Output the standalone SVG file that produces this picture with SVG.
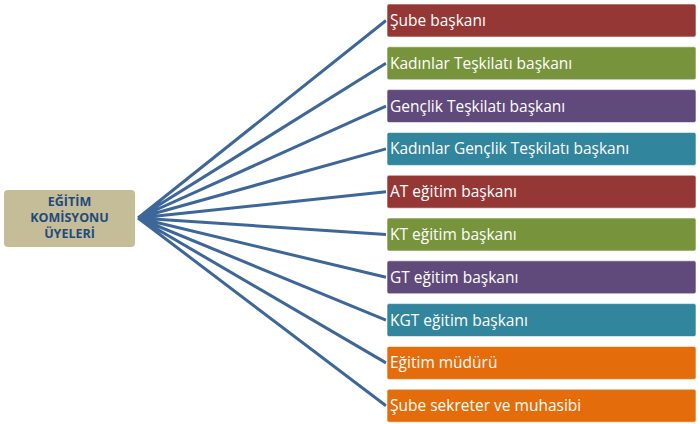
<svg xmlns="http://www.w3.org/2000/svg" width="700" height="424" viewBox="0 0 700 424">
<style>
.b{stroke:#fff;stroke-width:1;stroke-opacity:0.6}
.t{font-family:"Open Sans",sans-serif;font-size:15.5px;fill:#fff}
.c{stroke:#3D6699;stroke-width:3;fill:none}
.r{fill:#953735}.g{fill:#77933C}.p{fill:#604A7B}.q{fill:#31859C}.o{fill:#E46C0A}
</style>
<rect width="700" height="424" fill="#fff"/>
<g id="connectors">
<path class="c" d="M138 218L386 20.5M138 218L386 63.3M138 218L386 106.1M138 218L386 148.9M138 218L386 191.7M138 218L386 234.5M138 218L386 277.3M138 218L386 320.1M138 218L386 362.9M138 218L386 405.7"/>
</g>
<g id="center">
<rect x="4" y="190" width="131" height="57" rx="4" fill="#C4BD97"/>
<text font-family="Open Sans,sans-serif" font-weight="bold" font-size="12.5" fill="#1F497D" text-anchor="middle"><tspan x="69.5" y="206">EĞİTİM</tspan><tspan x="69.5" y="222">KOMİSYONU</tspan><tspan x="69.5" y="238">ÜYELERİ</tspan></text>
</g>
<g id="n1"><rect class="b r" x="387" y="4" width="309" height="33" rx="2"/><text class="t" x="390" y="26">Şube başkanı</text></g>
<g id="n2"><rect class="b g" x="387" y="46.8" width="309" height="33" rx="2"/><text class="t" x="390" y="68.8">Kadınlar Teşkilatı başkanı</text></g>
<g id="n3"><rect class="b p" x="387" y="89.6" width="309" height="33" rx="2"/><text class="t" x="390" y="111.6">Gençlik Teşkilatı başkanı</text></g>
<g id="n4"><rect class="b q" x="387" y="132.4" width="309" height="33" rx="2"/><text class="t" x="390" y="154.4">Kadınlar Gençlik Teşkilatı başkanı</text></g>
<g id="n5"><rect class="b r" x="387" y="175.2" width="309" height="33" rx="2"/><text class="t" x="390" y="197.2">AT eğitim başkanı</text></g>
<g id="n6"><rect class="b g" x="387" y="218" width="309" height="33" rx="2"/><text class="t" x="390" y="240">KT eğitim başkanı</text></g>
<g id="n7"><rect class="b p" x="387" y="260.8" width="309" height="33" rx="2"/><text class="t" x="390" y="282.8">GT eğitim başkanı</text></g>
<g id="n8"><rect class="b q" x="387" y="303.6" width="309" height="33" rx="2"/><text class="t" x="390" y="325.6">KGT eğitim başkanı</text></g>
<g id="n9"><rect class="b o" x="387" y="346.4" width="309" height="33" rx="2"/><text class="t" x="390" y="368.4">Eğitim müdürü</text></g>
<g id="n10"><rect class="b o" x="387" y="389.2" width="309" height="33" rx="2"/><text class="t" x="390" y="411.2">Şube sekreter ve muhasibi</text></g>
</svg>
